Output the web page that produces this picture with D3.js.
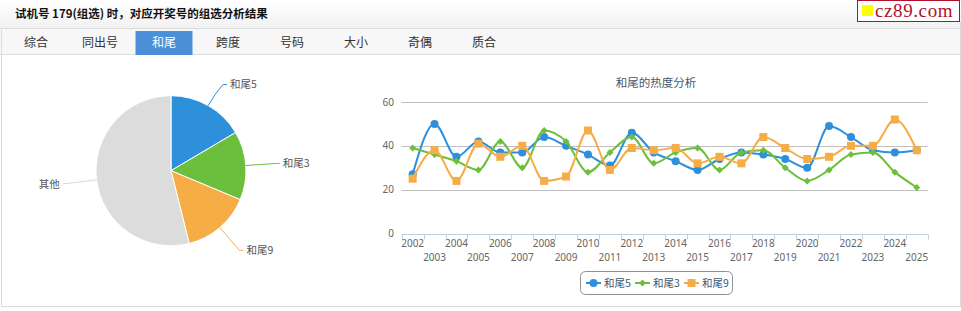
<!DOCTYPE html>
<html><head><meta charset="utf-8">
<script src="https://cdn.jsdelivr.net/npm/d3@7/dist/d3.min.js"></script>
<style>
html,body{margin:0;padding:0;background:#fff;}
svg{display:block;}
</style></head>
<body>
<svg id="c" width="961" height="311"></svg>
<script>
const pageTitle = "试机号 179(组选) 时，对应开奖号的组选分析结果";
const tabs = ["综合","同出号","和尾","跨度","号码","大小","奇偶","质合"];
const activeTab = "和尾";
const pieLabels = ["和尾5","和尾3","和尾9","其他"];
const pieValues = [16.5, 14.8, 14.8, 53.9];
const pieColors = ["#2e8fdb","#6cbf3c","#f6ad46","#dcdcdc"];
const connColors = ["#2e8fdb","#6cbf3c","#f6ad46","#d8d8d8"];
const years = ["2002","2003","2004","2005","2006","2007","2008","2009","2010","2011","2012","2013","2014","2015","2016","2017","2018","2019","2020","2021","2022","2023","2024","2025"];
const seriesNames = ["和尾5","和尾3","和尾9"];
const tail5 = [27,50,35,42,37,37,44,40,36,31,46,37,33,29,34,37,36,34,30,49,44,38,37,38];
const tail3 = [39,36,33,29,42,30,47,42,28,37,44,32,37,39,29,37,38,30,24,29,36,37,28,21];
const tail9 = [25,38,24,41,35,40,24,26,47,29,39,38,39,32,35,32,44,39,34,35,40,40,52,38];
const yTicks = [0,20,40,60];
const lineColors = ["#2e8fdb","#6cbf3c","#f6ad46"];
const chartTitle = "和尾的热度分析";

const svg = d3.select("#c");
const CJK = "'Noto Sans CJK SC','Noto Sans',sans-serif";

// header gradient
const defs = svg.append("defs");
const g1 = defs.append("linearGradient").attr("id","hg").attr("x1",0).attr("y1",0).attr("x2",0).attr("y2",1);
g1.append("stop").attr("offset","0").attr("stop-color","#ffffff");
g1.append("stop").attr("offset","1").attr("stop-color","#f1f1f1");
svg.append("rect").attr("x",0).attr("y",0).attr("width",961).attr("height",29).attr("fill","url(#hg)");
svg.append("line").attr("x1",0).attr("x2",961).attr("y1",28.5).attr("y2",28.5).attr("stroke","#dcdcdc");
svg.append("text").attr("x",15).attr("y",18).attr("font-family",CJK).attr("font-size",11.5).attr("font-weight","bold").attr("fill","#111").text(pageTitle);

// logo
svg.append("rect").attr("x",857.5).attr("y",0.5).attr("width",102).attr("height",21).attr("fill","#fff").attr("stroke","#b0102a");
svg.append("rect").attr("x",862).attr("y",5).attr("width",11).attr("height",11).attr("fill","#ffff00");
svg.append("text").attr("x",875).attr("y",17).attr("font-family","'Liberation Serif','DejaVu Serif',serif").attr("font-size",19).attr("fill","#b0102a").attr("letter-spacing",0.6).text("cz89.com");

// tabs bar
svg.append("rect").attr("x",0).attr("y",29).attr("width",961).attr("height",25).attr("fill","#f7f7f7");
svg.append("line").attr("x1",0).attr("x2",961).attr("y1",54.5).attr("y2",54.5).attr("stroke","#dcdcdc");
const tabX = d3.scalePoint().domain(tabs).range([36,484]);
tabs.forEach(t=>{
  if(t===activeTab){
    svg.append("rect").attr("x",tabX(t)-28.5).attr("y",31).attr("width",57).attr("height",24).attr("fill","#4a8fd7");
  }
  svg.append("text").attr("x",tabX(t)).attr("y",46.5).attr("text-anchor","middle").attr("font-family",CJK)
    .attr("font-size",12).attr("fill",t===activeTab?"#fff":"#333").text(t);
});
// panel borders
svg.append("line").attr("x1",1.5).attr("x2",1.5).attr("y1",29).attr("y2",307).attr("stroke","#dcdcdc");
svg.append("line").attr("x1",960.5).attr("x2",960.5).attr("y1",22).attr("y2",307).attr("stroke","#dcdcdc");
svg.append("line").attr("x1",1).attr("x2",961).attr("y1",306.5).attr("y2",306.5).attr("stroke","#dcdcdc");

// ---- pie ----
const cx = 171, cy = 170.7, R = 75;
const pie = d3.pie().sort(null).value(d=>d)(pieValues);
const arc = d3.arc().innerRadius(0).outerRadius(R);
const pg = svg.append("g").attr("transform",`translate(${cx},${cy})`);
pg.selectAll("path.s").data(pie).enter().append("path").attr("d",arc)
  .attr("fill",(d,i)=>pieColors[i]).attr("stroke","#fff").attr("stroke-width",1);
pie.forEach((d,i)=>{
  const a = (d.startAngle+d.endAngle)/2;
  const ex = R*Math.sin(a), ey = -R*Math.cos(a);
  const lx = (R+30)*Math.sin(a), ly = -(R+30)*Math.cos(a) + (i===0?5:0);
  const right = Math.sin(a) >= 0;
  const mx = (R+14)*Math.sin(a), my = -(R+14)*Math.cos(a);
  const endX = lx + (right? 4 : -4);
  pg.append("path").attr("d",`M${ex},${ey} Q${mx},${my} ${lx},${ly} L${endX},${ly}`)
    .attr("fill","none").attr("stroke",connColors[i]).attr("stroke-width",1);
  pg.append("text").attr("x",endX + (right?3:-3)).attr("y",ly+4)
    .attr("text-anchor",right?"start":"end").attr("font-family",CJK).attr("font-size",10.5)
    .attr("fill","#555").text(pieLabels[i]);
});

// ---- line chart ----
const x = d3.scaleBand().domain(years).range([401.7,927.7]).padding(0);
const y = d3.scaleLinear().domain([0,60]).range([233.5,102]);
const cg = svg.append("g");
cg.append("text").attr("x",656).attr("y",87).attr("text-anchor","middle").attr("font-family",CJK)
  .attr("font-size",11.5).attr("fill","#3e576f").text(chartTitle);
// grid
yTicks.filter(v=>v>0).forEach(v=>{
  cg.append("line").attr("x1",401.7).attr("x2",927.7).attr("y1",Math.round(y(v))+0.5).attr("y2",Math.round(y(v))+0.5)
    .attr("stroke","#c0c0c0").attr("stroke-width",1);
});
yTicks.forEach(v=>{
  cg.append("text").attr("x",394).attr("y",y(v)+3.5).attr("text-anchor","end").attr("font-family","'Noto Sans',sans-serif")
    .attr("font-size",10).attr("fill","#666").text(v);
});
// x axis
const xg = cg.append("g").attr("transform",`translate(0,${Math.round(y(0))+0.5})`);
xg.append("line").attr("x1",401.7).attr("x2",927.7).attr("stroke","#c0d0e0");
const bounds = years.map(d=>x(d)).concat([x(years[years.length-1])+x.bandwidth()]);
bounds.forEach(b=>{
  xg.append("line").attr("x1",Math.round(b)+0.5).attr("x2",Math.round(b)+0.5).attr("y1",0).attr("y2",5).attr("stroke","#c0d0e0");
});
years.forEach((yr,i)=>{
  cg.append("text").attr("x",x(yr)+x.bandwidth()/2).attr("y",i%2===0?247:260.5).attr("text-anchor","middle")
    .attr("font-family","'Noto Sans',sans-serif").attr("font-size",10).attr("fill","#666").text(yr);
});
// lines
const allSeries = [tail5, tail3, tail9];
const line = d3.line().x((d,i)=>x(years[i])+x.bandwidth()/2).y(d=>y(d)).curve(d3.curveMonotoneX);
function marker(sel, type, color){
  if(type===0) sel.append("circle").attr("r",4).attr("fill",color);
  else if(type===1) sel.append("path").attr("d","M0,-3.5L3.5,0L0,3.5L-3.5,0Z").attr("fill",color);
  else sel.append("rect").attr("x",-4).attr("y",-4).attr("width",8).attr("height",8).attr("fill",color);
}
allSeries.forEach((s,k)=>{
  cg.append("path").attr("d",line(s)).attr("fill","none").attr("stroke",lineColors[k]).attr("stroke-width",2);
  s.forEach((v,i)=>{
    const m = cg.append("g").attr("transform",`translate(${x(years[i])+x.bandwidth()/2},${y(v)})`);
    marker(m,k,lineColors[k]);
  });
});
// legend
const lg = svg.append("g");
lg.append("rect").attr("x",580.5).attr("y",271.5).attr("width",152).attr("height",23).attr("rx",5)
  .attr("fill","#fff").attr("stroke","#909090");
const legX = [586,635,684];
seriesNames.forEach((n,k)=>{
  lg.append("line").attr("x1",legX[k]).attr("x2",legX[k]+15).attr("y1",283).attr("y2",283).attr("stroke",lineColors[k]).attr("stroke-width",2);
  const m = lg.append("g").attr("transform",`translate(${legX[k]+7.5},283)`);
  marker(m,k,lineColors[k]);
  lg.append("text").attr("x",legX[k]+18).attr("y",287).attr("font-family",CJK).attr("font-size",10.5).attr("fill","#3e576f").text(n);
});
</script>
</body></html>
